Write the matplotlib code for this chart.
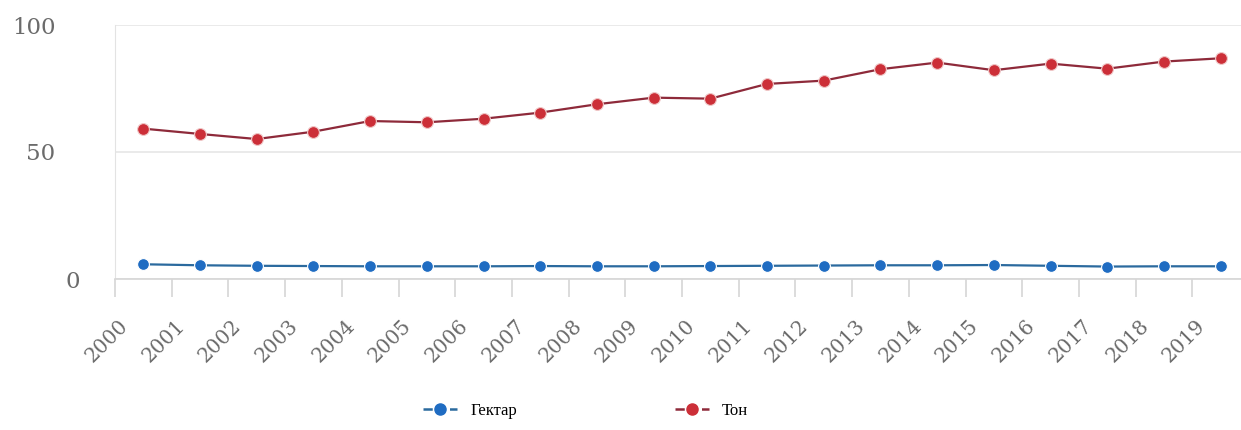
import numpy as np
import matplotlib.pyplot as plt
from matplotlib.lines import Line2D
from matplotlib.transforms import ScaledTranslation

years = [str(y) for y in range(2000, 2020)]
hectare = [5.8, 5.4, 5.2, 5.1, 5.0, 5.0, 5.0, 5.1, 5.0, 5.0,
           5.1, 5.2, 5.3, 5.4, 5.4, 5.5, 5.2, 4.9, 5.0, 5.0]
tonnes = [59.2, 57.1, 55.1, 58.0, 62.2, 61.7, 63.1, 65.5, 68.8, 71.4,
          71.0, 76.8, 78.1, 82.6, 85.2, 82.2, 84.8, 82.8, 85.6, 86.9]
series_names = ['Гектар', 'Тон']

blue_line, blue_dot = '#2b6a9e', '#1f6cc2'
red_line, red_dot = '#8e2a3a', '#cc2f38'
grey = '#6b6b6b'

fig = plt.figure(figsize=(12.41, 4.30), dpi=100)
ax = fig.add_axes([115 / 1241, 1 - 279 / 430, 1134 / 1241, 254 / 430])

x = np.arange(len(years))
ax.plot(x, hectare, color=blue_line, lw=1.6, marker='o', ms=8.5,
        mfc=blue_dot, mec='white', mew=0.8, zorder=3)
ax.plot(x, tonnes, color=red_line, lw=1.6, marker='o', ms=8.5,
        mfc=red_dot, mec='#f0c8c8', mew=0.8, zorder=3)

ax.set_xlim(-0.5, len(years) - 0.5)
ax.set_ylim(0, 100)
ax.set_yticks([0, 50, 100])
ax.grid(axis='y', color='#e6e6e6', lw=1.2)
ax.set_axisbelow(True)

for s in ['top', 'right']:
    ax.spines[s].set_visible(False)
ax.spines['left'].set_color('#e3e3e3')
ax.spines['bottom'].set_color('#d6d6d6')
ax.spines['bottom'].set_linewidth(1.2)

ax.tick_params(axis='y', length=0, pad=43, labelsize=16.5, labelcolor=grey)
ylabs = ax.get_yticklabels()
for lab in ylabs:
    lab.set_family('DejaVu Serif')
# the "0" label sits further right in the original
ylabs[0].set_transform(ylabs[0].get_transform() +
                       ScaledTranslation(18 / 72, 0, fig.dpi_scale_trans))

ax.set_xticks(x)
ax.set_xticklabels(years, rotation=45, ha='right', rotation_mode='anchor',
                   family='DejaVu Serif', fontsize=14.5, color=grey)
ax.tick_params(axis='x', which='major', length=0, pad=27)
# labels sit a bit left of the point centres in the original
shift = ScaledTranslation(-18 / 72, 0, fig.dpi_scale_trans)
for lab in ax.get_xticklabels():
    lab.set_transform(lab.get_transform() + shift)
ax.set_xticks(np.arange(-0.5, len(years)), minor=True)
ax.tick_params(axis='x', which='minor', length=13, width=1.2, color='#d6d6d6')

handles = [
    Line2D([], [], color=blue_line, ls='--', lw=1.8, marker='o', ms=8,
           mfc=blue_dot, mec=blue_dot),
    Line2D([], [], color=red_line, ls='--', lw=1.8, marker='o', ms=8,
           mfc=red_dot, mec=red_dot),
]
fig.legend(handles, series_names, loc='lower center', bbox_to_anchor=(0.472, -0.01),
           ncol=2, frameon=False, handlelength=2.0, columnspacing=9.5,
           prop={'family': 'Liberation Serif', 'size': 12})

fig.savefig('out.png', dpi=100)
